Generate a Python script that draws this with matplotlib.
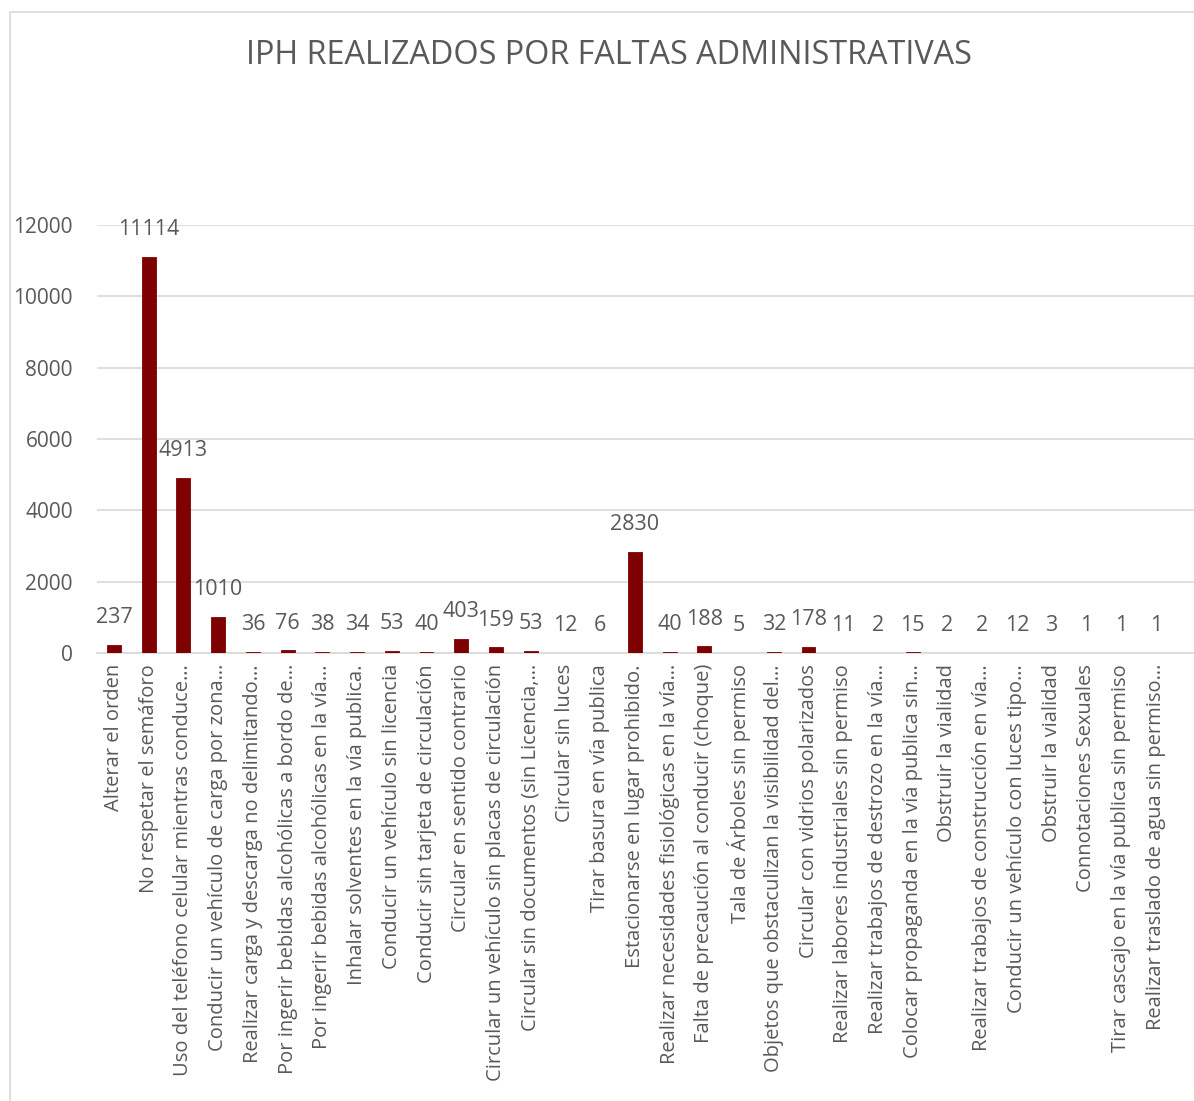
import matplotlib.pyplot as plt
from matplotlib.patches import Rectangle
import numpy as np

# datos del gráfico
categorias = [
    "Alterar el orden",
    "No respetar el semáforo",
    "Uso del teléfono celular mientras conduce…",
    "Conducir un vehículo de carga por zona…",
    "Realizar carga y descarga no delimitando…",
    "Por ingerir bebidas alcohólicas a bordo de…",
    "Por ingerir bebidas alcohólicas en la vía…",
    "Inhalar solventes en la vía publica.",
    "Conducir un vehículo sin licencia",
    "Conducir sin tarjeta de circulación",
    "Circular en sentido contrario",
    "Circular un vehículo sin placas de circulación",
    "Circular sin documentos (sin Licencia,…",
    "Circular sin luces",
    "Tirar basura en vía publica",
    "Estacionarse en lugar prohibido.",
    "Realizar necesidades fisiológicas en la vía…",
    "Falta de precaución al conducir (choque)",
    "Tala de Árboles sin permiso",
    "Objetos que obstaculizan la visibilidad del…",
    "Circular con vidrios polarizados",
    "Realizar labores industriales sin permiso",
    "Realizar trabajos de destrozo en la vía…",
    "Colocar propaganda en la vía publica sin…",
    "Obstruir la vialidad",
    "Realizar trabajos de construcción en vía…",
    "Conducir un vehículo con luces tipo…",
    "Obstruir la vialidad",
    "Connotaciones Sexuales",
    "Tirar cascajo en la vía publica sin permiso",
    "Realizar traslado de agua sin permiso…",
]
valores = [237, 11114, 4913, 1010, 36, 76, 38, 34, 53, 40, 403, 159, 53, 12, 6,
           2830, 40, 188, 5, 32, 178, 11, 2, 15, 2, 2, 12, 3, 1, 1, 1]
yticks = [0, 2000, 4000, 6000, 8000, 10000, 12000]
titulo = "IPH REALIZADOS POR FALTAS ADMINISTRATIVAS"

gris = "#595959"
rojo = "#7F0000"
linea = "#D9D9D9"

plt.rcParams['font.family'] = ['Open Sans', 'DejaVu Sans']

W, H = 1194, 1101
fig = plt.figure(figsize=(W / 100, H / 100), dpi=100)

# marco del gráfico (recortado a la derecha y abajo)
fig.patches.append(Rectangle((10 / W, -0.05), 1.2, 1 - 12 / H + 0.05,
                             transform=fig.transFigure, fill=False,
                             edgecolor=linea, linewidth=1.2))

ax = fig.add_axes([96.6 / W, (H - 653) / H, 1 - 96.6 / W, (653 - 225) / H])

x = np.arange(len(valores))
ax.bar(x, valores, width=0.4, color=rojo, edgecolor=rojo, linewidth=0.6,
       zorder=3)

for xi, v in zip(x, valores):
    ax.annotate(str(v), (xi, v), xytext=(0, 12), textcoords='offset points',
                ha='center', va='bottom', fontsize=15.5, color=gris)

ax.set_xlim(-0.5, 31.1)
ax.set_ylim(0, 12000)
ax.set_yticks(yticks)
ax.set_yticklabels([str(t) for t in yticks], fontsize=15, color=gris)
ax.set_xticks(x)
ax.set_xticklabels(categorias, rotation=90, fontsize=14.5, color=gris,
                   ha='center', va='top')
ax.tick_params(axis='both', length=0)
ax.tick_params(axis='y', pad=17)
ax.tick_params(axis='x', pad=8)

ax.grid(axis='y', color=linea, linewidth=1.2, zorder=0)
for s in ['top', 'right', 'left']:
    ax.spines[s].set_visible(False)
ax.spines['bottom'].set_color(linea)
ax.spines['bottom'].set_linewidth(1.2)

fig.text(609 / W, 1 - 56 / H, titulo, ha='center', va='center',
         fontsize=23.3, color=gris)

fig.savefig("out.png", dpi=100)
